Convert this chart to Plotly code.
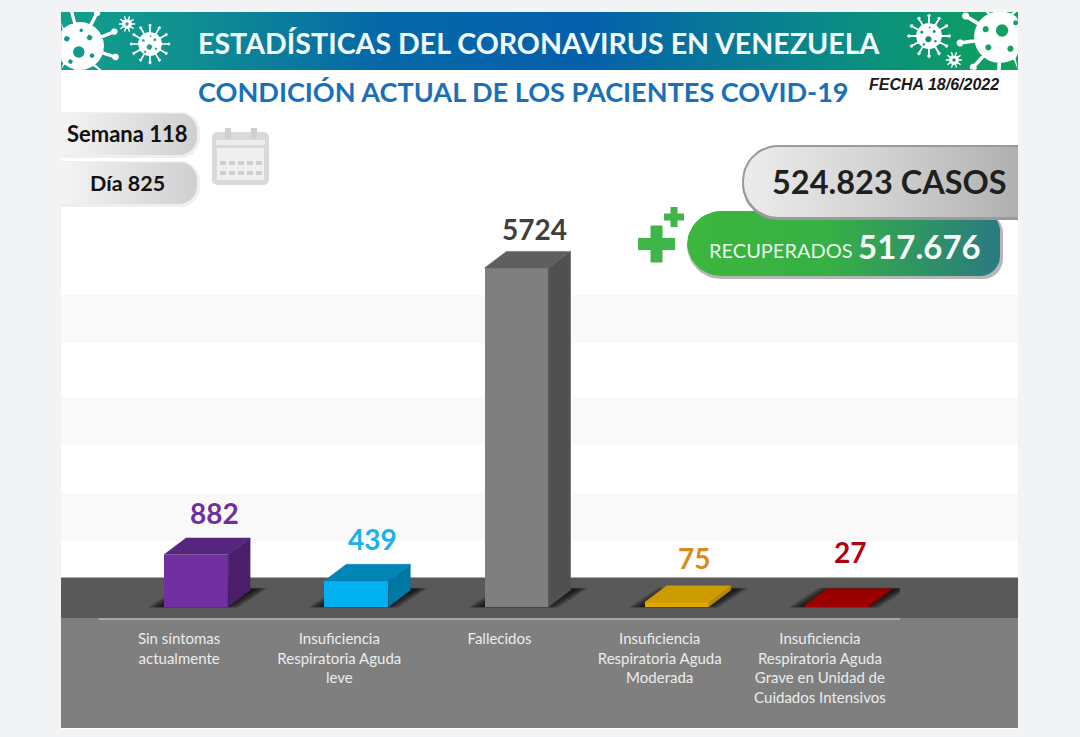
import numpy as np
import plotly.graph_objects as go

# ---- data
categories = ["Sin síntomas<br>actualmente", "Insuficiencia<br>Respiratoria Aguda<br>leve", "Fallecidos",
              "Insuficiencia<br>Respiratoria Aguda<br>Moderada",
              "Insuficiencia<br>Respiratoria Aguda<br>Grave en Unidad de<br>Cuidados Intensivos"]
values = [882, 439, 5724, 75, 27]
front_colors = ["#7030a0", "#00b0f0", "#7f7f7f", "#e0a800", "#a80000"]
top_colors = ["#57257e", "#0085b6", "#5f5f5f", "#cc9c00", "#990000"]
side_colors = ["#4a1f6c", "#0076a3", "#505050", "#b58a00", "#8a0000"]
label_colors = ["#6f2f9f", "#1ab0e8", "#404040", "#d98a1f", "#b00010"]
label_dx = [4, 2, 4, 3, -1]
label_dy = [6, 6, 3, 9, 18]

W, H = 1080, 737
PX_PER_UNIT = 0.0592      # vertical px per value unit
PX_PER_CAT = 160.2
AX_LEFT, AX_RIGHT, AX_Y = 99, 900, 618
Y_MIN, Y_MAX = -190, 6400
BAR_W = 64 / PX_PER_CAT
BAR_SHIFT = 17 / PX_PER_CAT
DX = 22 / PX_PER_CAT
DY = 16.5 / PX_PER_UNIT

fig = go.Figure()


def poly(pts, color=None, grad=None, line=None, lw=0, xa="x", ya="y"):
    xs, ys = [], []
    groups = pts if isinstance(pts[0][0], (list, tuple)) else [pts]
    for g in groups:
        xs += [p[0] for p in g] + [g[0][0], None]
        ys += [p[1] for p in g] + [g[0][1], None]
    kw = dict(fillgradient=grad) if grad else dict(fillcolor=color)
    fig.add_trace(go.Scatter(x=xs, y=ys, mode="lines", fill="toself", hoverinfo="skip", showlegend=False,
                             line=dict(width=lw, color=line or "rgba(0,0,0,0)"), xaxis=xa, yaxis=ya, **kw))


def rect(x0, y0, x1, y1, color=None, grad=None):
    poly([(x0, y0), (x1, y0), (x1, y1), (x0, y1)], color, grad)


def hgrad(*stops):
    return dict(type="horizontal", colorscale=[[a, c] for a, c in stops])


def pill(x0, y0, x1, y1, rl, rr, n=14):
    t = np.linspace(0, np.pi / 2, n)
    p = []
    p += [(x0 + rl - rl * np.cos(a), y0 + rl - rl * np.sin(a)) for a in t]
    p += [(x1 - rr + rr * np.sin(a), y0 + rr - rr * np.cos(a)) for a in t]
    p += [(x1 - rr + rr * np.cos(a), y1 - rr + rr * np.sin(a)) for a in t]
    p += [(x0 + rl - rl * np.sin(a), y1 - rl + rl * np.cos(a)) for a in t]
    return [(float(a), float(b)) for a, b in p]


def clamp(g):
    return [(float(np.clip(a, 61, 1018)), float(np.clip(b, 12, 70))) for a, b in g]


def circle(cx, cy, r, n=28):
    return clamp([(cx + r * np.cos(a), cy + r * np.sin(a)) for a in np.linspace(0, 2 * np.pi, n, endpoint=False)])


def virus(cx, cy, r, spikes, hole_color, holes, phase=0.0, thick=0.07):
    parts = [circle(cx, cy, r)]
    sw = max(0.7, r * thick)
    L = r * 1.55
    for a in np.linspace(0, 2 * np.pi, spikes, endpoint=False) + phase:
        c, s = np.cos(a), np.sin(a)
        parts.append(clamp([(cx + r * .8 * c - sw * s, cy + r * .8 * s + sw * c),
                            (cx + L * c - sw * s, cy + L * s + sw * c),
                            (cx + L * c + sw * s, cy + L * s - sw * c),
                            (cx + r * .8 * c + sw * s, cy + r * .8 * s - sw * c)][::-1]))
        parts.append(circle(cx + L * c, cy + L * s, r * 0.14, 10))
    poly(parts, "#ffffff")
    poly([circle(cx + u * r, cy + v * r, q * r, 12) for u, v, q in holes], hole_color)


# ---- page and panel
rect(0, 0, W, H, "#f1f3f4")
rect(61, 12, 1018, 729, "#ffffff")
for y0, y1 in [(295, 343), (397, 445), (493, 541)]:
    rect(61, y0, 1018, y1, "#f9f9f9")
rect(61, 577.5, 1018, 618, "#595959")
rect(61, 618, 1018, 728, "#7f7f7f")

# ---- header band
rect(61, 12, 1018, 70, grad=hgrad((0, "#12a08a"), (0.13, "#0f9090"), (0.33, "#0668a8"), (0.55, "#0560ac"),
                                  (0.8, "#0a8a88"), (1, "#10a25a")))
many = [(-.05, .25, .24), (-.55, -.3, .12), (.4, -.35, .12), (.5, .4, .1), (-.4, .65, .1), (.05, -.65, .08)]
virus(80, 46, 24, 9, "#0f9a8c", many, 0.3)
virus(150, 44, 12, 12, "#2d9a90", many)
virus(127, 24, 5, 10, "#2d9a90", [(0, 0, .35)])
virus(929, 36, 13, 12, "#108a78", many)
virus(954, 60, 5, 10, "#108a78", [(0, 0, .35)])
virus(1000, 37, 26, 9, "#12a25e", [(.08, -.25, .24), (-.55, -.3, .12), (.4, .45, .12), (-.45, .4, .12), (.6, -.55, .1)], 0.2)

# ---- left pills and calendar
poly(pill(61, 112, 200, 158, 0.01, 20), "#efefef")
poly(pill(61, 113, 197, 155, 0.01, 18), grad=hgrad((0, "#f4f4f4"), (1, "#cfcfcf")))
poly(pill(61, 161, 200, 207, 0.01, 20), "#efefef")
poly(pill(61, 162, 197, 204, 0.01, 18), grad=hgrad((0, "#f4f4f4"), (1, "#cfcfcf")))
poly(pill(212, 132, 269, 185, 5, 5), "#d9d9d9")
rect(217, 148, 264, 180, "#efefef")
rect(216, 140, 265, 145, "#ededed")
for cx in (228, 254):
    rect(cx - 3, 128, cx + 3, 139, "#d0d0d0")
for ry in (163, 173):
    for c in range(5):
        rect(220 + c * 9, ry - 2, 226 + c * 9, ry + 2, "#cfcfcf")

# ---- right badges
poly(pill(687, 213, 1003, 279, 34, 20), "rgba(110,110,110,0.5)")
poly(pill(687, 211, 1000, 276, 34, 20), grad=hgrad((0, "#3cb63c"), (0.45, "#37b045"), (1, "#2a7a80")))
poly(pill(742, 145, 1018, 220, 36, 0.01), "#9a9a9a")
poly(pill(744, 147, 1018, 217, 34, 0.01), grad=hgrad((0, "#ececec"), (0.5, "#d2d2d2"), (1, "#b0b0b0")))
for cx, cy, a, b in [(656.5, 244, 18.5, 6), (674, 217, 10, 3.5)]:
    rect(cx - a, cy - b, cx + a, cy + b, "#3fb54a")
    rect(cx - b, cy - a, cx + b, cy + a, "#3fb54a")

# ---- data: shadows on a hidden twin of the data axes (drawn first), then bars and 3D faces
left = [i - BAR_W / 2 + BAR_SHIFT for i in range(len(values))]
for k in range(7):
    g = (6 - k) * 2.2 / PX_PER_CAT
    h = (6 - k) * 0.7 / PX_PER_UNIT
    shapes = []
    for x in left:
        shapes.append([(x - g - 0.02, -h * .2), (x + BAR_W + g - 0.02, -h * .2),
                       (x + BAR_W + DX + g + 0.03, DY * 1.05 + h * .4), (x + DX - g + 0.03, DY * 1.05 + h * .4)])
    poly(shapes, "rgba(0,0,0,0.17)", xa="x2", ya="y2")

fig.add_trace(go.Bar(x=list(range(len(values))), y=values, width=BAR_W, offset=-BAR_W / 2 + BAR_SHIFT,
                     marker=dict(color=front_colors, line=dict(width=0)), hoverinfo="skip", showlegend=False,
                     xaxis="x3", yaxis="y3"))
for x, v, t, s in zip(left, values, top_colors, side_colors):
    poly([(x + BAR_W, 0), (x + BAR_W + DX, DY), (x + BAR_W + DX, v + DY), (x + BAR_W, v)], s, line=s, lw=0.5,
         xa="x3", ya="y3")
    poly([(x, v), (x + BAR_W, v), (x + BAR_W + DX, v + DY), (x + DX, v + DY)], t, line=t, lw=0.5, xa="x3", ya="y3")

# ---- texts
ann = []


def text(s, x, y, size, color, anchor="left", bold=True, family="Lato", italic=False):
    if bold:
        s = f"<b>{s}</b>"
    if italic:
        s = f"<i>{s}</i>"
    ann.append(dict(text=s, x=x, y=y, xref="x", yref="y", xanchor=anchor, yanchor="middle", showarrow=False,
                    font=dict(size=size, color=color, family=family)))


text("ESTADÍSTICAS DEL CORONAVIRUS EN VENEZUELA", 196, 43, 28.6, "#f2fbff")
text("CONDICIÓN ACTUAL DE LOS PACIENTES COVID-19", 196, 91, 27.1, "#1a70b8")
text("FECHA 18/6/2022", 867, 84, 16, "#1a1a1a", bold=True, family="Liberation Sans", italic=True)
text("Semana 118", 127.5, 133, 22, "#111111", "center")
text("Día 825", 127, 183, 21.5, "#111111", "center")
text("524.823 CASOS", 889.5, 181, 32.5, "#1f1f1f", "center")
ann.append(dict(text="RECUPERADOS", x=855, y=250, xref="x", yref="y", xanchor="right", yanchor="middle",
                showarrow=False, font=dict(size=20, color="#e9f7ec", family="Lato")))
text("517.676", 856, 246, 33, "#f4fbf5")

for x, v, c, dx, dy in zip(left, values, label_colors, label_dx, label_dy):
    ann.append(dict(text=f"<b>{v}</b>", x=x + BAR_W / 2 + DX / 2 + 0.02, y=v + DY, xref="x3", yref="y3",
                    xanchor="center", yanchor="bottom", xshift=dx, yshift=dy, showarrow=False,
                    font=dict(size=28, color=c, family="Lato")))

dom_x = [AX_LEFT / W, AX_RIGHT / W]
dom_y = [(H - AX_Y) / H, (H - AX_Y + (Y_MAX - Y_MIN) * PX_PER_UNIT) / H]
fig.update_layout(
    width=W, height=H, margin=dict(l=0, r=0, t=0, b=0), autosize=False,
    paper_bgcolor="#f1f3f4", plot_bgcolor="rgba(0,0,0,0)", showlegend=False, annotations=ann, bargap=0,
    xaxis=dict(range=[0, W], domain=[0, 1], visible=False, fixedrange=True),
    yaxis=dict(range=[H, 0], domain=[0, 1], visible=False, fixedrange=True),
    xaxis2=dict(range=[-0.5, 4.5], domain=dom_x, anchor="y2", visible=False, fixedrange=True),
    yaxis2=dict(range=[Y_MIN, Y_MAX], domain=dom_y, anchor="x2", visible=False, fixedrange=True),
    xaxis3=dict(range=[-0.5, 4.5], domain=dom_x, anchor="y3", tickmode="array",
                tickvals=list(range(len(categories))), ticktext=categories, ticks="", showgrid=False,
                zeroline=False, showline=True, linecolor="#a6a6a6", linewidth=2, side="bottom", ticklabelstandoff=6,
                tickfont=dict(size=15, color="#ececec", family="Lato"), fixedrange=True, tickangle=0),
    yaxis3=dict(range=[Y_MIN, Y_MAX], domain=dom_y, anchor="x3", visible=False, showgrid=False, zeroline=False,
                fixedrange=True),
)
fig.write_html("out.html", config=dict(displayModeBar=False),
               post_script="document.body.style.margin='0';document.documentElement.style.overflow='hidden';")
